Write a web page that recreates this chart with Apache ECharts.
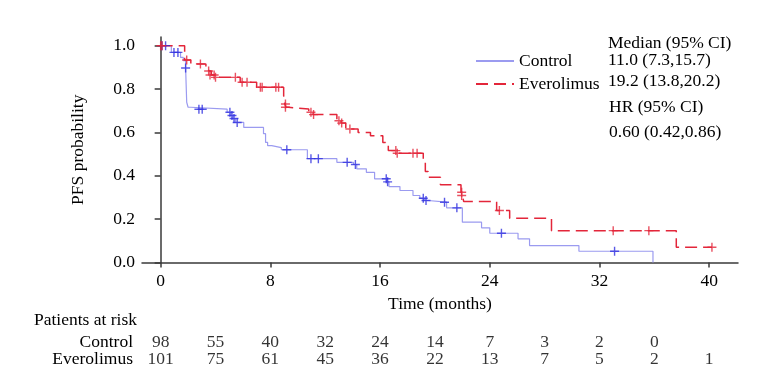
<!DOCTYPE html>
<html><head><meta charset="utf-8">
<script src="https://cdn.jsdelivr.net/npm/echarts@6/dist/echarts.min.js"></script>
<style>html,body{margin:0;padding:0;background:#fff}#c{width:782px;height:386px}</style>
</head><body><div id="c"></div>
<script>
// ---- data ----
const groups = ['Control', 'Everolimus'];
const xTicks = [0, 8, 16, 24, 32, 40];
const yTicks = [0, 0.2, 0.4, 0.6, 0.8, 1.0];

const ctrlTime = [0, 0.78, 1.45, 1.65, 1.82, 1.9, 2.0, 2.2, 4.85, 5.12, 5.27, 5.45, 6.06, 7.5, 7.65, 7.8, 8.1, 8.8, 10.7, 12.85, 14.06, 14.3, 15.0, 15.6, 16.5, 16.65, 17.45, 18.4, 18.9, 19.25, 19.5, 20.85, 22.0, 23.4, 24.0, 26.06, 26.9, 30.5, 35.9];
const ctrlSurv = [1.0, 0.969, 0.946, 0.931, 0.897, 0.739, 0.716, 0.707, 0.693, 0.678, 0.664, 0.646, 0.623, 0.594, 0.554, 0.539, 0.53, 0.52, 0.479, 0.462, 0.452, 0.432, 0.416, 0.386, 0.372, 0.35, 0.332, 0.309, 0.296, 0.286, 0.278, 0.252, 0.186, 0.16, 0.135, 0.109, 0.078, 0.052, 0];
const ctrlCensorTime = [0.1, 0.36, 0.97, 1.26, 1.82, 2.79, 3.03, 5.05, 5.2, 5.35, 5.58, 9.2, 10.96, 11.5, 13.6, 14.2, 16.45, 16.55, 19.15, 19.35, 20.7, 21.6, 24.85, 33.1];
const ctrlCensorSurv = [1.0, 1.0, 0.969, 0.969, 0.897, 0.707, 0.707, 0.693, 0.678, 0.664, 0.646, 0.52, 0.479, 0.479, 0.462, 0.452, 0.386, 0.372, 0.296, 0.286, 0.278, 0.252, 0.135, 0.052];

const evTime = [0, 1.75, 2.2, 3.3, 3.5, 3.7, 3.95, 5.8, 7.0, 8.97, 9.05, 9.15, 9.3, 10.8, 11.1, 12.85, 13.15, 13.5, 14.4, 15.3, 16.2, 16.4, 16.6, 17.2, 19.15, 19.3, 19.5, 20.4, 21.9, 22.0, 22.1, 24.5, 25.45, 28.5, 37.6, 40.2];
const evSurv = [1.0, 0.934, 0.916, 0.897, 0.883, 0.865, 0.854, 0.831, 0.808, 0.77, 0.731, 0.716, 0.708, 0.693, 0.682, 0.654, 0.643, 0.616, 0.60, 0.585, 0.554, 0.539, 0.516, 0.504, 0.46, 0.42, 0.393, 0.359, 0.324, 0.309, 0.281, 0.24, 0.204, 0.147, 0.07, 0.07];
const evCensorTime = [0, 0.1, 1.9, 2.9, 3.5, 3.6, 3.9, 4.0, 5.45, 5.94, 6.3, 7.27, 7.4, 8.4, 8.6, 9.1, 9.1, 10.96, 11.15, 13.0, 13.2, 13.8, 17.15, 17.25, 18.4, 18.7, 21.95, 21.95, 24.7, 33.0, 35.6, 40.2];
const evCensorSurv = [1.0, 1.0, 0.934, 0.916, 0.883, 0.865, 0.865, 0.854, 0.854, 0.831, 0.831, 0.808, 0.808, 0.808, 0.808, 0.731, 0.716, 0.693, 0.682, 0.654, 0.643, 0.616, 0.516, 0.504, 0.504, 0.504, 0.324, 0.309, 0.24, 0.147, 0.147, 0.07];

const riskTimesCtrl = [0, 4, 8, 12, 16, 20, 24, 28, 32, 36];
const riskControl = [98, 55, 40, 32, 24, 14, 7, 3, 2, 0];
const riskTimesEv = [0, 4, 8, 12, 16, 20, 24, 28, 32, 36, 40];
const riskEverolimus = [101, 75, 61, 45, 36, 22, 13, 7, 5, 2, 1];

const medianLines = ['Median (95% CI)', '11.0 (7.3,15.7)', '19.2 (13.8,20.2)'];
const hrLines = ['HR (95% CI)', '0.60 (0.42,0.86)'];
const xName = 'Time (months)';
const yName = 'PFS probability';
const riskTitle = 'Patients at risk';

// ---- chart ----
const FONT = 'Liberation Serif';
const FS = 17.5;
const BLUE = '#9b9bf0', BLUE_MARK = '#2f2fe0', RED = '#e3263a';
const zip = (a, b) => a.map((v, i) => [v, b[i]]);
const plus = 'path://M5,0L5,10M0,5L10,5';
const fontStr = FS + 'px "' + FONT + '"';

const chart = echarts.init(document.getElementById('c'), null, {renderer: 'canvas'});
const axisLine = {show: true, lineStyle: {color: '#3a3a3a', width: 1.5}};

chart.setOption({
  animation: false,
  backgroundColor: '#fff',
  textStyle: {fontFamily: FONT, color: '#000'},
  grid: [
    {left: 142, right: 44, top: 37, bottom: 123.5, containLabel: false},
    {left: 142, right: 44, top: 333.5, height: 34, containLabel: false}
  ],
  legend: {
    data: groups, orient: 'vertical', left: 475, top: 52, padding: 0,
    itemWidth: 38, itemHeight: 14, itemGap: 5,
    itemStyle: {opacity: 0},
    textStyle: {fontFamily: FONT, fontSize: FS, color: '#000'}
  },
  xAxis: [{
    type: 'value', gridIndex: 0, min: -1.36, max: 42.1,
    axisLine, splitLine: {show: false},
    axisTick: {show: true, length: 5, customValues: xTicks, lineStyle: {color: '#3a3a3a', width: 1.5}},
    axisLabel: {customValues: xTicks, margin: 10, fontFamily: FONT, fontSize: FS, color: '#000'},
    name: xName, nameLocation: 'middle', nameGap: 23,
    nameTextStyle: {fontFamily: FONT, fontSize: FS, color: '#000'}
  }, {
    type: 'value', gridIndex: 1, min: -1.36, max: 42.1, show: false
  }],
  yAxis: [{
    type: 'value', gridIndex: 0, min: 0, max: 1.04,
    axisLine, splitLine: {show: false},
    axisTick: {show: true, length: 6, customValues: yTicks, lineStyle: {color: '#3a3a3a', width: 1.5}},
    axisLabel: {customValues: yTicks, margin: 7, fontFamily: FONT, fontSize: FS, color: '#000',
      formatter: v => v.toFixed(1)},
    name: yName, nameLocation: 'middle', nameGap: 55,
    nameTextStyle: {fontFamily: FONT, fontSize: FS, color: '#000'}
  }, {
    type: 'category', gridIndex: 1, data: groups.slice().reverse(),
    axisLine: {show: false}, axisTick: {show: false}, splitLine: {show: false},
    axisLabel: {interval: 0, margin: 9, fontFamily: FONT, fontSize: FS, color: '#000'}
  }],
  series: [
    {name: groups[0], type: 'line', step: 'end', symbol: 'none', data: zip(ctrlTime, ctrlSurv),
     lineStyle: {color: BLUE, width: 1.2}, itemStyle: {color: BLUE}, z: 2},
    {name: groups[1], type: 'line', step: 'end', symbol: 'none', data: zip(evTime, evSurv),
     lineStyle: {color: RED, width: 1.5, type: [12, 6]}, itemStyle: {color: RED}, z: 3},
    {name: 'ctrlCensor', type: 'scatter', data: zip(ctrlCensorTime, ctrlCensorSurv),
     symbol: plus, symbolSize: 9,
     itemStyle: {color: 'rgba(0,0,0,0)', borderColor: BLUE_MARK, borderWidth: 1.4}, z: 4},
    {name: 'evCensor', type: 'scatter', data: zip(evCensorTime, evCensorSurv),
     symbol: plus, symbolSize: 9,
     itemStyle: {color: 'rgba(0,0,0,0)', borderColor: RED, borderWidth: 1.4}, z: 5},
    {name: 'riskCtrl', type: 'scatter', xAxisIndex: 1, yAxisIndex: 1,
     data: riskTimesCtrl.map((t, i) => [t, groups[0], riskControl[i]]),
     symbolSize: 1, itemStyle: {color: 'rgba(0,0,0,0)'},
     label: {show: true, position: 'inside', formatter: p => String(p.value[2]),
       fontFamily: FONT, fontSize: FS, color: '#000'}},
    {name: 'riskEv', type: 'scatter', xAxisIndex: 1, yAxisIndex: 1,
     data: riskTimesEv.map((t, i) => [t, groups[1], riskEverolimus[i]]),
     symbolSize: 1, itemStyle: {color: 'rgba(0,0,0,0)'},
     label: {show: true, position: 'inside', formatter: p => String(p.value[2]),
       fontFamily: FONT, fontSize: FS, color: '#000'}}
  ],
  graphic: [
    {type: 'text', left: 608, top: 43 - 9, style: {text: medianLines[0], font: fontStr, fill: '#000'}},
    {type: 'text', left: 608, top: 60 - 9, style: {text: medianLines[1], font: fontStr, fill: '#000'}},
    {type: 'text', left: 608, top: 81 - 9, style: {text: medianLines[2], font: fontStr, fill: '#000'}},
    {type: 'text', left: 609, top: 107 - 9, style: {text: hrLines[0], font: fontStr, fill: '#000'}},
    {type: 'text', left: 609, top: 132 - 9, style: {text: hrLines[1], font: fontStr, fill: '#000'}},
    {type: 'text', left: 34, top: 320 - 9, style: {text: riskTitle, font: fontStr, fill: '#000'}}
  ]
});
</script></body></html>
